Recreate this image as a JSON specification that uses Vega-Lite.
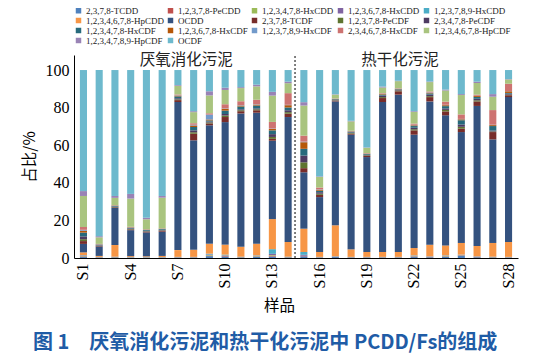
{
"$schema":"https://vega.github.io/schema/vega-lite/v6.json",
"width":444,"height":203,
"autosize":{"type":"none"},
"padding":{"left":74,"top":55,"right":28,"bottom":97},
"background":"white",
"title":{"text":"图 1\u3000厌氧消化污泥和热干化污泥中 PCDD/Fs的组成","orient":"bottom","anchor":"start","frame":"group","dx":-41,"offset":19,"font":"Noto Sans CJK SC","fontSize":20,"fontWeight":"bold","color":"#1f5ca6"},
"datasets":{
"congeners":[
{"key":"TCDD","name":"2,3,7,8-TCDD","rank":1},
{"key":"PeCDD","name":"1,2,3,7,8-PeCDD","rank":2},
{"key":"HxCDD478","name":"1,2,3,4,7,8-HxCDD","rank":3},
{"key":"HxCDD678","name":"1,2,3,6,7,8-HxCDD","rank":4},
{"key":"HxCDD789","name":"1,2,3,7,8,9-HxCDD","rank":5},
{"key":"HpCDD","name":"1,2,3,4,6,7,8-HpCDD","rank":6},
{"key":"OCDD","name":"OCDD","rank":7},
{"key":"TCDF","name":"2,3,7,8-TCDF","rank":8},
{"key":"PeCDF12378","name":"1,2,3,7,8-PeCDF","rank":9},
{"key":"PeCDF23478","name":"2,3,4,7,8-PeCDF","rank":10},
{"key":"HxCDF478","name":"1,2,3,4,7,8-HxCDF","rank":11},
{"key":"HxCDF678","name":"1,2,3,6,7,8-HxCDF","rank":12},
{"key":"HxCDF789","name":"1,2,3,7,8,9-HxCDF","rank":13},
{"key":"HxCDF234678","name":"2,3,4,6,7,8-HxCDF","rank":14},
{"key":"HpCDF4678","name":"1,2,3,4,6,7,8-HpCDF","rank":15},
{"key":"HpCDF4789","name":"1,2,3,4,7,8,9-HpCDF","rank":16},
{"key":"OCDF","name":"OCDF","rank":17}
],
"samples":[
{"sample":"S1","TCDD":0.5,"PeCDD":0.3,"HxCDD478":0.2,"HxCDD678":0.3,"HxCDD789":0.2,"HpCDD":1.5,"OCDD":4.5,"TCDF":1.5,"PeCDF12378":1.0,"PeCDF23478":1.5,"HxCDF478":2.0,"HxCDF678":1.0,"HxCDF789":0.5,"HxCDF234678":1.5,"HpCDF4678":16.5,"HpCDF4789":2.6,"OCDF":64.4},
{"sample":"S2","TCDD":0.2,"PeCDD":0.1,"HxCDD478":0.1,"HxCDD678":0.1,"HxCDD789":0.1,"HpCDD":0.5,"OCDD":5.0,"TCDF":0.3,"PeCDF12378":0.2,"PeCDF23478":0.2,"HxCDF478":0.3,"HxCDF678":0.1,"HxCDF789":0.1,"HxCDF234678":0.2,"HpCDF4678":3.5,"HpCDF4789":0.6,"OCDF":88.4},
{"sample":"S3","TCDD":0.3,"PeCDD":0.1,"HxCDD478":0.1,"HxCDD678":0.1,"HxCDD789":0.1,"HpCDD":6.2,"OCDD":19.8,"TCDF":0.3,"PeCDF12378":0.2,"PeCDF23478":0.2,"HxCDF478":0.3,"HxCDF678":0.2,"HxCDF789":0.1,"HxCDF234678":0.1,"HpCDF4678":3.9,"HpCDF4789":1.0,"OCDF":67.0},
{"sample":"S4","TCDD":0.1,"PeCDD":0.1,"HxCDD478":0.1,"HxCDD678":0.1,"HxCDD789":0.1,"HpCDD":0.5,"OCDD":13.8,"TCDF":0.4,"PeCDF12378":0.2,"PeCDF23478":0.3,"HxCDF478":0.4,"HxCDF678":0.2,"HxCDF789":0.1,"HxCDF234678":0.2,"HpCDF4678":15.0,"HpCDF4789":2.5,"OCDF":65.9},
{"sample":"S5","TCDD":0.1,"PeCDD":0.1,"HxCDD478":0.1,"HxCDD678":0.1,"HxCDD789":0.1,"HpCDD":0.4,"OCDD":12.7,"TCDF":0.4,"PeCDF12378":0.2,"PeCDF23478":0.3,"HxCDF478":0.4,"HxCDF678":0.2,"HxCDF789":0.1,"HxCDF234678":0.1,"HpCDF4678":5.3,"HpCDF4789":0.8,"OCDF":78.6},
{"sample":"S6","TCDD":0.1,"PeCDD":0.1,"HxCDD478":0.1,"HxCDD678":0.1,"HxCDD789":0.1,"HpCDD":0.6,"OCDD":12.9,"TCDF":0.5,"PeCDF12378":0.2,"PeCDF23478":0.3,"HxCDF478":0.4,"HxCDF678":0.2,"HxCDF789":0.1,"HxCDF234678":0.1,"HpCDF4678":16.3,"HpCDF4789":0.9,"OCDF":67.0},
{"sample":"S7","TCDD":0.2,"PeCDD":0.1,"HxCDD478":0.1,"HxCDD678":0.1,"HxCDD789":0.1,"HpCDD":3.6,"OCDD":78.8,"TCDF":1.0,"PeCDF12378":0.4,"PeCDF23478":0.6,"HxCDF478":1.0,"HxCDF678":0.4,"HxCDF789":0.2,"HxCDF234678":0.4,"HpCDF4678":4.6,"HpCDF4789":0.4,"OCDF":8.0},
{"sample":"S8","TCDD":0.2,"PeCDD":0.1,"HxCDD478":0.1,"HxCDD678":0.1,"HxCDD789":0.1,"HpCDD":3.8,"OCDD":58.2,"TCDF":3.5,"PeCDF12378":0.8,"PeCDF23478":1.0,"HxCDF478":1.8,"HxCDF678":0.8,"HxCDF789":0.4,"HxCDF234678":0.8,"HpCDF4678":5.9,"HpCDF4789":0.5,"OCDF":21.9},
{"sample":"S9","TCDD":1.0,"PeCDD":0.3,"HxCDD478":0.3,"HxCDD678":0.3,"HxCDD789":0.4,"HpCDD":5.3,"OCDD":63.0,"TCDF":1.0,"PeCDF12378":0.5,"PeCDF23478":0.5,"HxCDF478":0.6,"HxCDF678":0.5,"HxCDF789":2.6,"HxCDF234678":0.7,"HpCDF4678":9.5,"HpCDF4789":2.2,"OCDF":11.3},
{"sample":"S10","TCDD":0.8,"PeCDD":0.3,"HxCDD478":0.2,"HxCDD678":0.2,"HxCDD789":0.3,"HpCDD":5.3,"OCDD":65.2,"TCDF":2.7,"PeCDF12378":0.8,"PeCDF23478":0.8,"HxCDF478":1.8,"HxCDF678":1.0,"HxCDF789":0.2,"HxCDF234678":2.2,"HpCDF4678":7.6,"HpCDF4789":1.2,"OCDF":9.4},
{"sample":"S11","TCDD":0.3,"PeCDD":0.1,"HxCDD478":0.1,"HxCDD678":0.1,"HxCDD789":0.1,"HpCDD":5.3,"OCDD":70.9,"TCDF":1.2,"PeCDF12378":0.5,"PeCDF23478":0.5,"HxCDF478":1.5,"HxCDF678":0.5,"HxCDF789":0.2,"HxCDF234678":2.1,"HpCDF4678":7.0,"HpCDF4789":0.5,"OCDF":9.1},
{"sample":"S12","TCDD":0.6,"PeCDD":0.2,"HxCDD478":0.2,"HxCDD678":0.2,"HxCDD789":0.2,"HpCDD":6.2,"OCDD":69.7,"TCDF":1.3,"PeCDF12378":0.5,"PeCDF23478":0.5,"HxCDF478":1.5,"HxCDF678":0.5,"HxCDF789":0.2,"HxCDF234678":2.4,"HpCDF4678":7.1,"HpCDF4789":0.9,"OCDF":7.8},
{"sample":"S13","TCDD":0.8,"PeCDD":0.5,"HxCDD478":0.3,"HxCDD678":0.6,"HxCDD789":2.5,"HpCDD":16.0,"OCDD":41.7,"TCDF":1.0,"PeCDF12378":1.0,"PeCDF23478":1.5,"HxCDF478":2.0,"HxCDF678":0.8,"HxCDF789":0.2,"HxCDF234678":3.5,"HpCDF4678":14.0,"HpCDF4789":2.0,"OCDF":11.6},
{"sample":"S14","TCDD":0.3,"PeCDD":0.1,"HxCDD478":0.1,"HxCDD678":0.1,"HxCDD789":0.1,"HpCDD":7.8,"OCDD":66.5,"TCDF":1.8,"PeCDF12378":0.8,"PeCDF23478":1.0,"HxCDF478":1.5,"HxCDF678":1.2,"HxCDF789":0.2,"HxCDF234678":6.2,"HpCDF4678":5.3,"HpCDF4789":0.8,"OCDF":6.2},
{"sample":"S15","TCDD":0.9,"PeCDD":0.2,"HxCDD478":0.1,"HxCDD678":0.5,"HxCDD789":1.5,"HpCDD":12.4,"OCDD":30.0,"TCDF":2.2,"PeCDF12378":3.1,"PeCDF23478":3.6,"HxCDF478":3.6,"HxCDF678":3.5,"HxCDF789":0.3,"HxCDF234678":3.2,"HpCDF4678":16.0,"HpCDF4789":1.8,"OCDF":17.1},
{"sample":"S16","TCDD":0.2,"PeCDD":0.1,"HxCDD478":0.1,"HxCDD678":0.1,"HxCDD789":0.1,"HpCDD":2.6,"OCDD":29.2,"TCDF":1.2,"PeCDF12378":0.6,"PeCDF23478":0.8,"HxCDF478":0.8,"HxCDF678":0.5,"HxCDF789":0.2,"HxCDF234678":1.0,"HpCDF4678":5.6,"HpCDF4789":0.3,"OCDF":56.6},
{"sample":"S17","TCDD":0.5,"PeCDD":0.2,"HxCDD478":0.1,"HxCDD678":0.1,"HxCDD789":0.1,"HpCDD":16.4,"OCDD":65.9,"TCDF":0.4,"PeCDF12378":0.2,"PeCDF23478":0.3,"HxCDF478":0.3,"HxCDF678":0.2,"HxCDF789":0.1,"HxCDF234678":0.1,"HpCDF4678":2.0,"HpCDF4789":0.2,"OCDF":12.9},
{"sample":"S18","TCDD":0.2,"PeCDD":0.1,"HxCDD478":0.1,"HxCDD678":0.1,"HxCDD789":0.1,"HpCDD":4.0,"OCDD":61.0,"TCDF":0.6,"PeCDF12378":0.3,"PeCDF23478":0.3,"HxCDF478":0.4,"HxCDF678":0.2,"HxCDF789":0.1,"HxCDF234678":0.2,"HpCDF4678":5.0,"HpCDF4789":0.3,"OCDF":27.0},
{"sample":"S19","TCDD":0.2,"PeCDD":0.1,"HxCDD478":0.1,"HxCDD678":0.1,"HxCDD789":0.1,"HpCDD":2.6,"OCDD":50.5,"TCDF":0.6,"PeCDF12378":0.3,"PeCDF23478":0.3,"HxCDF478":0.4,"HxCDF678":0.2,"HxCDF789":0.1,"HxCDF234678":0.2,"HpCDF4678":2.8,"HpCDF4789":0.2,"OCDF":41.2},
{"sample":"S20","TCDD":0.2,"PeCDD":0.1,"HxCDD478":0.1,"HxCDD678":0.1,"HxCDD789":0.1,"HpCDD":2.6,"OCDD":79.8,"TCDF":2.1,"PeCDF12378":0.5,"PeCDF23478":0.8,"HxCDF478":0.6,"HxCDF678":0.3,"HxCDF789":0.1,"HxCDF234678":0.3,"HpCDF4678":3.0,"HpCDF4789":0.5,"OCDF":8.8},
{"sample":"S21","TCDD":0.2,"PeCDD":0.1,"HxCDD478":0.1,"HxCDD678":0.1,"HxCDD789":0.1,"HpCDD":2.6,"OCDD":83.7,"TCDF":1.8,"PeCDF12378":0.4,"PeCDF23478":0.4,"HxCDF478":0.3,"HxCDF678":0.2,"HxCDF789":0.1,"HxCDF234678":0.2,"HpCDF4678":3.8,"HpCDF4789":0.2,"OCDF":5.7},
{"sample":"S22","TCDD":0.5,"PeCDD":0.2,"HxCDD478":0.2,"HxCDD678":0.3,"HxCDD789":0.2,"HpCDD":3.9,"OCDD":60.3,"TCDF":2.3,"PeCDF12378":0.6,"PeCDF23478":0.8,"HxCDF478":0.9,"HxCDF678":0.4,"HxCDF789":0.3,"HxCDF234678":0.6,"HpCDF4678":6.2,"HpCDF4789":0.4,"OCDF":21.9},
{"sample":"S23","TCDD":0.4,"PeCDD":0.1,"HxCDD478":0.1,"HxCDD678":0.2,"HxCDD789":0.1,"HpCDD":6.2,"OCDD":76.2,"TCDF":2.3,"PeCDF12378":0.5,"PeCDF23478":0.8,"HxCDF478":0.7,"HxCDF678":0.3,"HxCDF789":0.2,"HxCDF234678":0.5,"HpCDF4678":5.0,"HpCDF4789":0.3,"OCDF":6.1},
{"sample":"S24","TCDD":0.6,"PeCDD":0.2,"HxCDD478":0.2,"HxCDD678":0.2,"HxCDD789":0.2,"HpCDD":5.3,"OCDD":69.2,"TCDF":2.1,"PeCDF12378":0.8,"PeCDF23478":0.8,"HxCDF478":1.2,"HxCDF678":0.5,"HxCDF789":0.2,"HxCDF234678":1.7,"HpCDF4678":5.9,"HpCDF4789":0.5,"OCDF":10.4},
{"sample":"S25","TCDD":1.3,"PeCDD":0.2,"HxCDD478":0.1,"HxCDD678":0.1,"HxCDD789":0.1,"HpCDD":6.2,"OCDD":59.0,"TCDF":1.8,"PeCDF12378":1.0,"PeCDF23478":1.2,"HxCDF478":2.3,"HxCDF678":0.5,"HxCDF789":0.2,"HxCDF234678":2.4,"HpCDF4678":10.3,"HpCDF4789":0.5,"OCDF":12.8},
{"sample":"S26","TCDD":0.4,"PeCDD":0.1,"HxCDD478":0.1,"HxCDD678":0.2,"HxCDD789":0.1,"HpCDD":5.5,"OCDD":74.5,"TCDF":2.4,"PeCDF12378":0.6,"PeCDF23478":0.8,"HxCDF478":1.0,"HxCDF678":0.5,"HxCDF789":0.1,"HxCDF234678":0.6,"HpCDF4678":6.2,"HpCDF4789":0.7,"OCDF":6.2},
{"sample":"S27","TCDD":0.3,"PeCDD":0.1,"HxCDD478":0.1,"HxCDD678":0.1,"HxCDD789":0.1,"HpCDD":7.3,"OCDD":55.1,"TCDF":3.9,"PeCDF12378":0.3,"PeCDF23478":0.5,"HxCDF478":2.4,"HxCDF678":0.5,"HxCDF789":0.2,"HxCDF234678":7.8,"HpCDF4678":7.1,"HpCDF4789":1.4,"OCDF":12.8},
{"sample":"S28","TCDD":0.2,"PeCDD":0.1,"HxCDD478":0.1,"HxCDD678":0.1,"HxCDD789":0.1,"HpCDD":7.9,"OCDD":77.1,"TCDF":1.0,"PeCDF12378":0.3,"PeCDF23478":0.5,"HxCDF478":0.4,"HxCDF678":0.9,"HxCDF789":0.1,"HxCDF234678":3.9,"HpCDF4678":2.3,"HpCDF4789":0.2,"OCDF":4.8}
]
},
"layer":[
{
"data":{"name":"samples"},
"transform":[
{"fold":["TCDD","PeCDD","HxCDD478","HxCDD678","HxCDD789","HpCDD","OCDD","TCDF","PeCDF12378","PeCDF23478","HxCDF478","HxCDF678","HxCDF789","HxCDF234678","HpCDF4678","HpCDF4789","OCDF"],"as":["key","value"]},
{"lookup":"key","from":{"data":{"name":"congeners"},"key":"key","fields":["name","rank"]}}
],
"mark":{"type":"bar"},
"encoding":{
"x":{"field":"sample","type":"nominal","sort":null,
"scale":{"domain":["S1","S2","S3","S4","S5","S6","S7","S8","S9","S10","S11","S12","S13","S14","S15","S16","S17","S18","S19","S20","S21","S22","S23","S24","S25","S26","S27","S28"],"paddingInner":0.55,"paddingOuter":0.375},
"axis":{"values":["S1","S4","S7","S10","S13","S16","S19","S22","S25","S28"],"labelAngle":-90,"labelFont":"Liberation Serif","labelFontSize":16,"labelColor":"black","labelPadding":5,"ticks":false,"domainColor":"black","domainWidth":1,"grid":false,"title":"样品","titleFont":"Noto Sans CJK SC","titleFontSize":15.5,"titleFontWeight":"normal","titleColor":"black","titlePadding":11,"titleX":205}},
"y":{"field":"value","type":"quantitative","stack":"zero",
"scale":{"domain":[0,108],"nice":false},
"axis":{"values":[0,20,40,60,80,100],"labelFont":"Liberation Serif","labelFontSize":16,"labelColor":"black","labelPadding":5,"ticks":false,"domainColor":"black","domainWidth":1,"grid":false,"title":"占比/%","titleFont":"Noto Sans CJK SC","titleFontSize":15.5,"titleFontWeight":"normal","titleColor":"black","titlePadding":8}},
"color":{"field":"name","type":"nominal",
"scale":{"domain":["2,3,7,8-TCDD","1,2,3,7,8-PeCDD","1,2,3,4,7,8-HxCDD","1,2,3,6,7,8-HxCDD","1,2,3,7,8,9-HxCDD","1,2,3,4,6,7,8-HpCDD","OCDD","2,3,7,8-TCDF","1,2,3,7,8-PeCDF","2,3,4,7,8-PeCDF","1,2,3,4,7,8-HxCDF","1,2,3,6,7,8-HxCDF","1,2,3,7,8,9-HxCDF","2,3,4,6,7,8-HxCDF","1,2,3,4,6,7,8-HpCDF","1,2,3,4,7,8,9-HpCDF","OCDF"],
"range":["#4F81BD","#C0504D","#9BBB59","#8064A2","#4BACC6","#F79646","#34527F","#772C2A","#5F7530","#4D3B62","#276A7C","#B65708","#729ACA","#CD7371","#A9C47F","#9983B5","#6DB9CD"]},
"legend":{"title":null,"orient":"none","legendX":0,"legendY":-49,"direction":"horizontal","columns":5,"symbolType":"square","symbolSize":30,"symbolStrokeWidth":0,"labelFont":"Liberation Serif","labelFontSize":9,"labelColor":"#222","rowPadding":0,"columnPadding":2,"labelOffset":3,"padding":0,"labelLimit":200}},
"order":{"field":"rank","type":"quantitative","sort":"ascending"}
}
},
{
"data":{"values":[{}]},
"mark":{"type":"rule","color":"black","strokeWidth":1,"strokeDash":[2,2]},
"encoding":{
"x":{"datum":"S15","type":"nominal","bandPosition":-0.75},
"y":{"datum":0,"type":"quantitative"},
"y2":{"datum":108}
}
},
{
"data":{"values":[{}]},
"mark":{"type":"text","font":"Noto Sans CJK SC","fontSize":15.5,"baseline":"middle","align":"center","color":"#222"},
"encoding":{
"x":{"datum":"S8","type":"nominal","bandPosition":-0.55},
"y":{"datum":105.5,"type":"quantitative"},
"text":{"value":"厌氧消化污泥"}
}
},
{
"data":{"values":[{}]},
"mark":{"type":"text","font":"Noto Sans CJK SC","fontSize":15.5,"baseline":"middle","align":"center","color":"#222"},
"encoding":{
"x":{"datum":"S21","type":"nominal","bandPosition":0.75},
"y":{"datum":105.5,"type":"quantitative"},
"text":{"value":"热干化污泥"}
}
}
],
"config":{"view":{"stroke":null}}
}
